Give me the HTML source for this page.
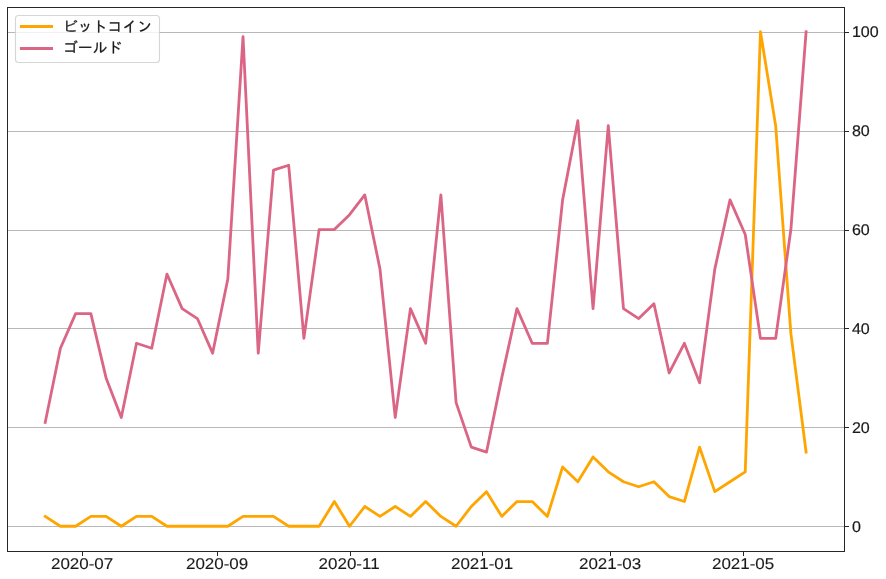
<!DOCTYPE html>
<html lang="ja">
<head>
<meta charset="utf-8">
<title>ビットコイン / ゴールド</title>
<style>
html,body{margin:0;padding:0;background:#ffffff;}
body{width:886px;height:579px;overflow:hidden;}
svg{display:block;}
text{text-rendering:geometricPrecision;}
.tk{font-family:"Liberation Sans","IPAGothic",sans-serif;font-size:15.5px;fill:#1a1a1a;stroke:#1a1a1a;stroke-width:0.12px;}
.ty{font-family:"Liberation Sans","IPAGothic",sans-serif;font-size:15.5px;fill:#1a1a1a;stroke:#1a1a1a;stroke-width:0.2px;}
.lg{font-family:"Liberation Sans","IPAGothic",sans-serif;font-size:14.86px;fill:#1a1a1a;stroke:#1a1a1a;stroke-width:0.25px;}
</style>
</head>
<body>
<svg width="886" height="579" viewBox="0 0 886 579">
<rect x="0" y="0" width="886" height="579" fill="#ffffff"/>
<line x1="7.50" y1="526.50" x2="844.50" y2="526.50" stroke="#b8b8b8" stroke-width="1"/>
<line x1="7.50" y1="427.50" x2="844.50" y2="427.50" stroke="#b8b8b8" stroke-width="1"/>
<line x1="7.50" y1="328.50" x2="844.50" y2="328.50" stroke="#b8b8b8" stroke-width="1"/>
<line x1="7.50" y1="230.50" x2="844.50" y2="230.50" stroke="#b8b8b8" stroke-width="1"/>
<line x1="7.50" y1="131.50" x2="844.50" y2="131.50" stroke="#b8b8b8" stroke-width="1"/>
<line x1="7.50" y1="32.50" x2="844.50" y2="32.50" stroke="#b8b8b8" stroke-width="1"/>
<polyline fill="none" stroke="#ffa500" stroke-width="2.8" stroke-linejoin="round" stroke-linecap="square" points="45.20,516.38 60.42,526.27 75.64,526.27 90.85,516.38 106.07,516.38 121.29,526.27 136.51,516.38 151.73,516.38 166.94,526.27 182.16,526.27 197.38,526.27 212.60,526.27 227.82,526.27 243.03,516.38 258.25,516.38 273.47,516.38 288.69,526.27 303.91,526.27 319.12,526.27 334.34,501.54 349.56,526.27 364.78,506.49 380.00,516.38 395.21,506.49 410.43,516.38 425.65,501.54 440.87,516.38 456.09,526.27 471.30,506.49 486.52,491.65 501.74,516.38 516.96,501.54 532.18,501.54 547.39,516.38 562.61,466.92 577.83,481.76 593.05,457.03 608.27,471.87 623.48,481.76 638.70,486.71 653.92,481.76 669.14,496.60 684.36,501.54 699.57,447.14 714.79,491.65 730.01,481.76 745.23,471.87 760.45,31.72 775.66,125.68 790.88,333.40 806.10,452.09"/>
<polyline fill="none" stroke="#db6585" stroke-width="2.8" stroke-linejoin="round" stroke-linecap="square" points="45.20,422.41 60.42,348.23 75.64,313.61 90.85,313.61 106.07,377.90 121.29,417.47 136.51,343.29 151.73,348.23 166.94,274.05 182.16,308.67 197.38,318.56 212.60,353.18 227.82,279.00 243.03,36.67 258.25,353.18 273.47,170.19 288.69,165.25 303.91,338.34 319.12,229.54 334.34,229.54 349.56,214.70 364.78,194.92 380.00,269.10 395.21,417.47 410.43,308.67 425.65,343.29 440.87,194.92 456.09,402.63 471.30,447.14 486.52,452.09 501.74,377.90 516.96,308.67 532.18,343.29 547.39,343.29 562.61,199.87 577.83,120.74 593.05,308.67 608.27,125.68 623.48,308.67 638.70,318.56 653.92,303.72 669.14,372.96 684.36,343.29 699.57,382.85 714.79,269.10 730.01,199.87 745.23,234.49 760.45,338.34 775.66,338.34 790.88,229.54 806.10,31.72"/>
<rect x="7.5" y="7.5" width="837.0" height="544.0" fill="none" stroke="#262626" stroke-width="1"/>
<line x1="82.50" y1="551.50" x2="82.50" y2="556.00" stroke="#262626" stroke-width="1"/>
<text class="tk" transform="translate(82.10,569.05) scale(1.095,1)" text-anchor="middle">2020-07</text>
<line x1="217.50" y1="551.50" x2="217.50" y2="556.00" stroke="#262626" stroke-width="1"/>
<text class="tk" transform="translate(217.10,569.05) scale(1.095,1)" text-anchor="middle">2020-09</text>
<line x1="350.50" y1="551.50" x2="350.50" y2="556.00" stroke="#262626" stroke-width="1"/>
<text class="tk" transform="translate(349.10,569.05) scale(1.095,1)" text-anchor="middle">2020-11</text>
<line x1="482.50" y1="551.50" x2="482.50" y2="556.00" stroke="#262626" stroke-width="1"/>
<text class="tk" transform="translate(482.10,569.05) scale(1.095,1)" text-anchor="middle">2021-01</text>
<line x1="610.50" y1="551.50" x2="610.50" y2="556.00" stroke="#262626" stroke-width="1"/>
<text class="tk" transform="translate(610.10,569.05) scale(1.095,1)" text-anchor="middle">2021-03</text>
<line x1="743.50" y1="551.50" x2="743.50" y2="556.00" stroke="#262626" stroke-width="1"/>
<text class="tk" transform="translate(743.10,569.05) scale(1.095,1)" text-anchor="middle">2021-05</text>
<line x1="844.50" y1="526.50" x2="849.00" y2="526.50" stroke="#262626" stroke-width="1"/>
<text class="ty" transform="translate(851.9,532.05) scale(1.035,1)">0</text>
<line x1="844.50" y1="427.50" x2="849.00" y2="427.50" stroke="#262626" stroke-width="1"/>
<text class="ty" transform="translate(851.9,433.05) scale(1.035,1)">20</text>
<line x1="844.50" y1="328.50" x2="849.00" y2="328.50" stroke="#262626" stroke-width="1"/>
<text class="ty" transform="translate(851.9,334.05) scale(1.035,1)">40</text>
<line x1="844.50" y1="230.50" x2="849.00" y2="230.50" stroke="#262626" stroke-width="1"/>
<text class="ty" transform="translate(851.9,235.10) scale(1.035,1)">60</text>
<line x1="844.50" y1="131.50" x2="849.00" y2="131.50" stroke="#262626" stroke-width="1"/>
<text class="ty" transform="translate(851.9,136.20) scale(1.035,1)">80</text>
<line x1="844.50" y1="32.50" x2="849.00" y2="32.50" stroke="#262626" stroke-width="1"/>
<text class="ty" transform="translate(851.9,37.10) scale(1.035,1)">100</text>
<rect x="15.5" y="15.5" width="144" height="47" rx="3" ry="3" fill="#ffffff" fill-opacity="0.8" stroke="#cccccc" stroke-opacity="0.8" stroke-width="1.1"/>
<line x1="19.9" y1="26.5" x2="53" y2="26.5" stroke="#ffa500" stroke-width="2.8"/>
<line x1="19.9" y1="48.5" x2="53" y2="48.5" stroke="#db6585" stroke-width="2.8"/>
<text class="lg" x="63.0" y="31.7">ビットコイン</text>
<text class="lg" x="63.0" y="53.0">ゴールド</text>
</svg>
</body>
</html>
